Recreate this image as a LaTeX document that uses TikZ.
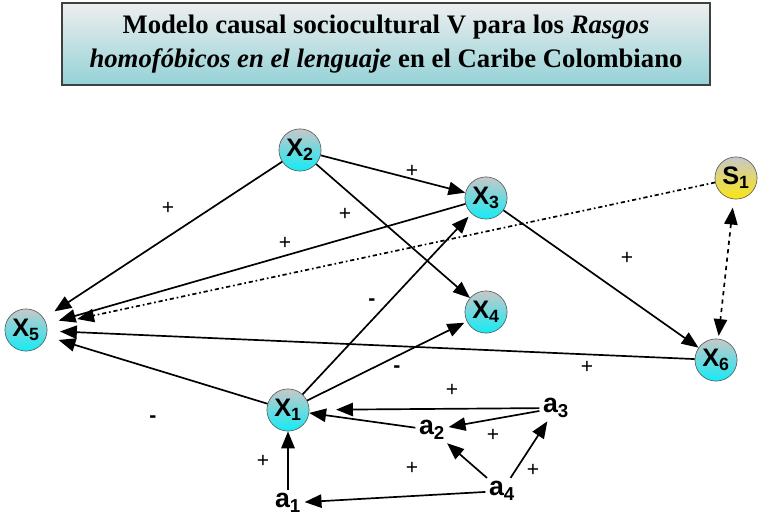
\documentclass[tikz,border=0pt]{standalone}
\usepackage{fontspec}
\setmainfont{Liberation Serif}
\newfontfamily\nodefont{Liberation Sans}
\usetikzlibrary{positioning,arrows.meta}

\definecolor{titletop}{RGB}{238,238,238}
\definecolor{titlebot}{RGB}{148,210,215}
\definecolor{vartop}{RGB}{200,200,200}
\definecolor{varbot}{RGB}{20,235,245}
\definecolor{sbot}{RGB}{250,230,20}

\tikzset{
  var/.style={circle, draw=black!70, thin, minimum size=30pt, inner sep=0pt,
    top color=vartop, bottom color=varbot,
    font=\nodefont\bfseries\fontsize{18}{18}\selectfont},
  svar/.style={var, bottom color=sbot},
  avar/.style={inner sep=2pt, font=\nodefont\bfseries\fontsize{19}{19}\selectfont},
  sign/.style={font=\nodefont\fontsize{15}{15}\selectfont},
}

\begin{document}
\begin{tikzpicture}[x=0.025cm, y=-0.025cm, ->, >={Triangle[length=12pt,width=9.5pt]}, line width=1.2pt]
	\useasboundingbox (0,0) rectangle (768,524);

	% title
	\node[draw=black!75, line width=1.3pt, rectangle, top color=titletop, bottom color=titlebot,
		minimum width=16.2cm, minimum height=2.05cm, align=center,
		font=\bfseries\fontsize{19}{24}\selectfont] (title) at (386,44)
		{Modelo causal sociocultural V para los \textit{Rasgos}\\
		 \textit{homof\'obicos en el lenguaje} en el Caribe Colombiano};

	% variables
	\node[var] (X2) at (300,150) {X\textsubscript{2}};
	\node[var] (X3) at (486,198) {X\textsubscript{3}};
	\node[svar] (S1) at (736,178) {S\textsubscript{1}};
	\node[var] (X5) at (26,330) {X\textsubscript{5}};
	\node[var] (X4) at (486,312) {X\textsubscript{4}};
	\node[var] (X6) at (716,360) {X\textsubscript{6}};
	\node[var] (X1) at (288,410) {X\textsubscript{1}};

	\node[avar] (a1) at (288,503) {a\textsubscript{1}};
	\node[avar] (a2) at (432,430) {a\textsubscript{2}};
	\node[avar] (a3) at (556,408) {a\textsubscript{3}};
	\node[avar] (a4) at (502,491) {a\textsubscript{4}};

	% arrows
	\draw[shorten >=9pt] (X2) -- (X5);
	\draw (X2) -- (X3);
	\draw (X2) -- (X4);
	\draw[shorten >=9pt] (X3) -- (X5);
	\draw (X3) -- (X6);
	\draw[dash dot, shorten >=22pt] (S1) -- (X5);
	\draw[<->, dashed, shorten <=6pt, shorten >=2pt] (S1) -- (X6);
	\draw[shorten >=9pt] (X6) -- (X5);
	\draw[shorten >=9pt] (X1) -- (X5);
	\draw[shorten >=3pt] (X1) -- (X3);
	\draw[shorten >=2pt] (X1) -- (X4);

	\draw (a1) -- (X1);
	\draw[shorten >=19pt] (a3) -- (X1);
	\draw (a2) -- (X1);
	\draw (a3) -- (a2);
	\draw (a4) -- (a2);
	\draw (a4) -- (a3);
	\draw (a4) -- (a1);

	% signs
	\node[sign] (s25) at (168,208) {+};
	\node[sign] (s23) at (412,171) {+};
	\node[sign] (s24) at (345,214) {+};
	\node[sign] (s35) at (285,243) {+};
	\node[sign] (s36) at (627,258) {+};
	\node[sign] (s13) at (372,302) {\bfseries -};
	\node[sign] (s14) at (397,369) {\bfseries -};
	\node[sign] (s65) at (587,367) {+};
	\node[sign] (s15) at (153,419) {\bfseries -};
	\node[sign] (sa31) at (452,390) {+};
	\node[sign] (sa32) at (493,435) {+};
	\node[sign] (sa11) at (263,461) {+};
	\node[sign] (sa42) at (412,468) {+};
	\node[sign] (sa43) at (533,470) {+};
\end{tikzpicture}
\end{document}
